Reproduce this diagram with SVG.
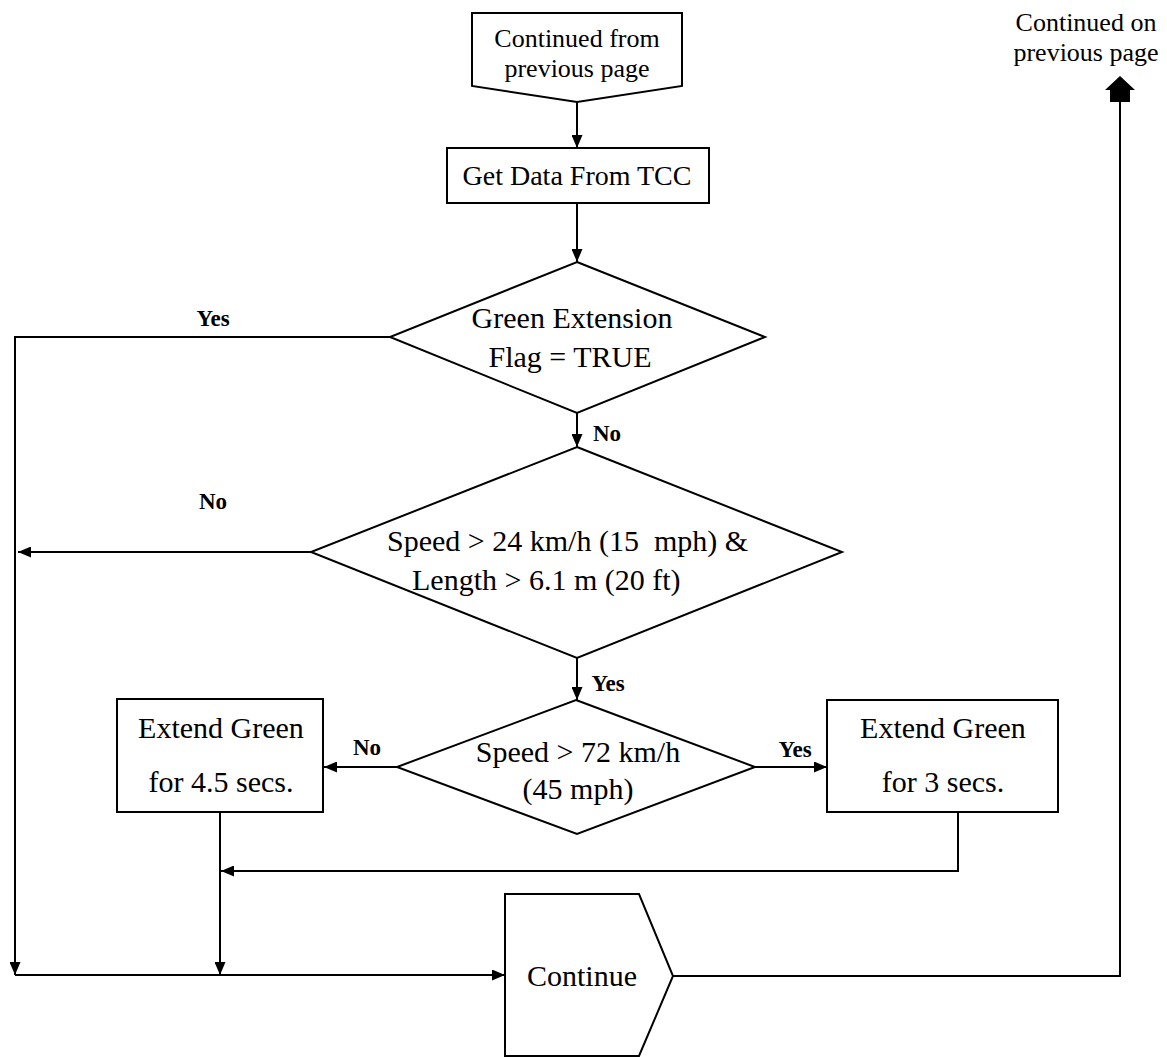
<svg xmlns="http://www.w3.org/2000/svg" width="1167" height="1057" viewBox="0 0 1167 1057">
<style>
.shape{fill:#fff;stroke:#000;stroke-width:2}
.line{fill:none;stroke:#000;stroke-width:2}
.t{font-family:"Liberation Serif","Times New Roman",serif;font-size:30px;fill:#000;text-anchor:middle}
.s{font-size:26px}
.m{font-size:28px}
.b{font-family:"Liberation Serif","Times New Roman",serif;font-size:23px;font-weight:bold;fill:#000;text-anchor:middle}
</style>
<defs>
<marker id="ah" markerUnits="userSpaceOnUse" markerWidth="13" markerHeight="11" refX="13" refY="5.5" orient="auto">
<path d="M0,0 L13,5.5 L0,11 z" fill="#000"/>
</marker>
</defs>
<rect width="1167" height="1057" fill="#fff"/>
<g id="connectors">
<path class="line" d="M577,102 V148" marker-end="url(#ah)"/>
<path class="line" d="M577,203 V262" marker-end="url(#ah)"/>
<path class="line" d="M390,337 H15 V975" marker-end="url(#ah)"/>
<path class="line" d="M577,413 V447" marker-end="url(#ah)"/>
<path class="line" d="M311,552 H18" marker-end="url(#ah)"/>
<path class="line" d="M577,658 V700" marker-end="url(#ah)"/>
<path class="line" d="M397,767 H324" marker-end="url(#ah)"/>
<path class="line" d="M755,767 H827" marker-end="url(#ah)"/>
<path class="line" d="M958,812 V871 H221" marker-end="url(#ah)"/>
<path class="line" d="M220,812 V975" marker-end="url(#ah)"/>
<path class="line" d="M15,975 H505" marker-end="url(#ah)"/>
<path class="line" d="M673,976 H1120 V100"/>
<polygon points="1120,76 1135,90 1130,90 1130,102 1110,102 1110,90 1105,90" fill="#000"/>
<text class="b" x="213" y="326">Yes</text>
<text class="b" x="607" y="441">No</text>
<text class="b" x="213" y="509">No</text>
<text class="b" x="608" y="691">Yes</text>
<text class="b" x="367" y="755">No</text>
<text class="b" x="795" y="757">Yes</text>
</g>
<g id="start">
<polygon class="shape" points="472,13 682,13 682,86 577,102 472,86"/>
<text class="t s" x="577" y="47">Continued from</text>
<text class="t s" x="577" y="77">previous page</text>
</g>
<g id="get-data">
<rect class="shape" x="447" y="148" width="262" height="55"/>
<text class="t m" x="577" y="185">Get Data From TCC</text>
</g>
<g id="decision-flag">
<polygon class="shape" points="577,262 765,337 577,413 390,337"/>
<text class="t" x="572" y="328">Green Extension</text>
<text class="t" x="570" y="367">Flag = TRUE</text>
</g>
<g id="decision-speed-length">
<polygon class="shape" points="577,447 842,552 577,658 311,552"/>
<text class="t" x="387" y="551" style="text-anchor:start" xml:space="preserve">Speed &gt; 24 km/h (15  mph) &amp;</text>
<text class="t" x="412" y="590" style="text-anchor:start">Length &gt; 6.1 m (20 ft)</text>
</g>
<g id="decision-speed72">
<polygon class="shape" points="576,700 755,767 577,834 397,767"/>
<text class="t" x="578" y="762">Speed &gt; 72 km/h</text>
<text class="t" x="578" y="799">(45 mph)</text>
</g>
<g id="extend-45">
<rect class="shape" x="117" y="699" width="206" height="113"/>
<text class="t" x="221" y="738">Extend Green</text>
<text class="t" x="221" y="792">for 4.5 secs.</text>
</g>
<g id="extend-3">
<rect class="shape" x="827" y="700" width="231" height="112"/>
<text class="t" x="943" y="738">Extend Green</text>
<text class="t" x="943" y="792">for 3 secs.</text>
</g>
<g id="continue">
<polygon class="shape" points="505,894 639,894 673,976 639,1056 505,1056"/>
<text class="t" x="582" y="986">Continue</text>
</g>
<g id="offpage">
<text class="t s" x="1086" y="31">Continued on</text>
<text class="t s" x="1086" y="61">previous page</text>
</g>
</svg>
